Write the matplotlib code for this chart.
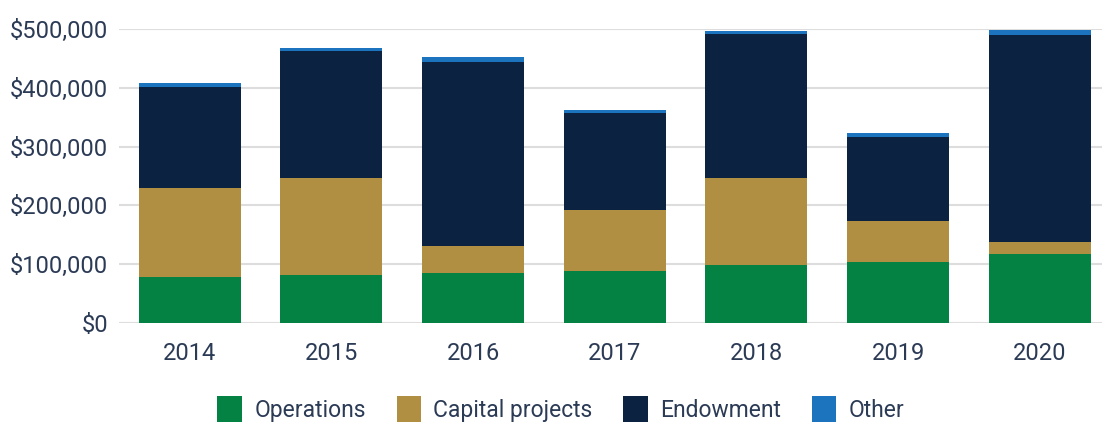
import matplotlib
matplotlib.use('Agg')
import matplotlib.pyplot as plt
from matplotlib.ticker import FuncFormatter

# values
years = ['2014', '2015', '2016', '2017', '2018', '2019', '2020']
operations = [78700, 82100, 85500, 88900, 99100, 104200, 117800]
capital = [151200, 164800, 45900, 103600, 147800, 69600, 20400]
endowment = [171600, 215700, 312500, 164800, 244600, 142700, 351600]
other = [6800, 5100, 8500, 5100, 5100, 6800, 8500]

colors = ['#048243', '#b08f43', '#0c2241', '#1c73be']
labels = ['Operations', 'Capital projects', 'Endowment', 'Other']
text_color = '#2b3a55'

plt.rcParams['font.family'] = ['Roboto', 'DejaVu Sans']

fig = plt.figure(figsize=(11.02, 4.22), dpi=100)
ax = fig.add_axes([0.108, 0.2346, 0.892, 0.6964])

x = range(len(years))
bottom = [0] * len(years)
for series, c, lab in zip([operations, capital, endowment, other], colors, labels):
    ax.bar(x, series, bottom=bottom, width=0.72, color=c, label=lab, zorder=3)
    bottom = [b + s for b, s in zip(bottom, series)]

ax.set_ylim(0, 500000)
ax.set_xlim(-0.5, 6.44)
ax.set_yticks(range(0, 500001, 100000))
ax.yaxis.set_major_formatter(FuncFormatter(lambda v, p: '${:,.0f}'.format(v)))
ax.set_xticks(list(x))
ax.set_xticklabels(years)
ax.grid(axis='y', color='#dddddd', linewidth=1.5, zorder=0)
for s in ax.spines.values():
    s.set_visible(False)
ax.tick_params(axis='both', length=0, labelsize=17, colors=text_color)
ax.tick_params(axis='y', pad=8)
ax.tick_params(axis='x', pad=14)

fig.legend(loc='lower center', bbox_to_anchor=(0.509, -0.05), ncol=4, frameon=False,
           fontsize=16.5, labelcolor=text_color, handlelength=1.05, handleheight=1.4,
           handletextpad=0.55, columnspacing=1.35)

fig.savefig('out.png', dpi=100)
